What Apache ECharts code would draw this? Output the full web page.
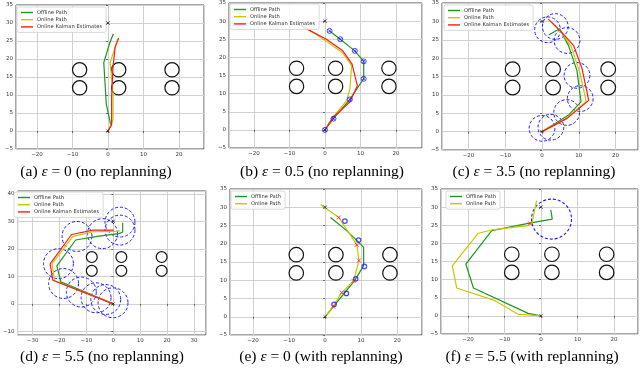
<!DOCTYPE html>
<html><head><meta charset="utf-8">
<script src="https://cdn.jsdelivr.net/npm/echarts@6/dist/echarts.min.js"></script>
<style>html,body{margin:0;padding:0;background:#fff}#c{width:640px;height:368px}</style>
</head><body><div id="c"></div>
<script>
// ---------- data ----------
const obstacleCenters = [[-8,12],[-8,17],[3,12],[3,17],[18,12],[18,17]];
const obstacleRadius = 2;
const startPoint = [[0,0]];
const goalPoint = [[0,30]];

const aOffline = [[0.8,1.5],[-0.5,7.5],[-1.2,19],[0.5,24.5],[1.5,27]];
const aOnline  = [[0,0],[1.4,3],[1.4,10.5],[0.6,19],[2,23.3],[2.8,25.8]];
const aKalman  = [[0,0],[1,1.7],[1,9.5],[1.4,17.8],[2,23.3],[3,25.8]];

const bOffline = [[0,0],[2.4,3.1],[7,8.4],[10.9,14.1],[10.9,18.9],[8.4,21.8],[4.3,25],[1.3,27.3]];
const bOnline  = [[0,0],[2.3,3.5],[6.1,8.1],[7,11.3],[7.5,17.7],[5,21.2],[0.8,24.2],[-4.5,27.6],[-8,29.5]];
const bKalman  = [[0,0],[2.3,3.5],[7,7.7],[9.1,12.2],[7.6,18.2],[5,21.8],[0.4,25],[-5,27.8],[-8,29.5]];
const bWaypoints = [[0,0],[2.4,3.1],[7,8.4],[10.9,14.1],[10.9,18.9],[8.4,21.8],[4.3,25],[1.3,27.3]];

const cOffline = [[0,0],[3.6,2.2],[7.2,4.5],[10.6,8.1],[9.5,16.6],[7.2,23.4],[4.8,28],[1.8,26.3]];
const cOnline  = [[0,0],[6.5,3.5],[12,8.2],[10.3,16],[8,23],[5.2,27.3],[2.5,29.8]];
const cKalman  = [[0,0],[6.8,3.6],[12.7,8.5],[10.9,17.1],[8.6,23.4],[5.4,27],[1.7,30.6]];
const cCircles = [[0,0.9],[2.4,1.2],[6.7,5.2],[10.4,9],[9.5,15.3],[6.8,24.8],[3.6,28.6],[1.5,27.7]];
const cEps = 3.5;

const dOffline = [[0,0],[-19.5,8],[-21,13.8],[-14,23.2],[-6,24.5],[2,25.5],[3.5,26],[3.5,29.5]];
const dOnline  = [[0,0],[-21.8,8.4],[-22.8,14.5],[-15,24.5],[-7.5,26.2],[0.5,26.3],[2.5,26.5]];
const dKalman  = [[0,0],[-22.5,8.6],[-23.5,14.5],[-15.5,25.2],[-7.5,26.8],[0.2,26.8]];
const dCircles = [[-13.5,24.5],[-4,25.5],[2.5,29.7],[2.5,26.8],[-20.4,14.6],[-18.5,7.4],[-11.9,4.3],[-6.4,2.2],[-2.8,1.6],[-0.1,0.4]];
const dEps = 5.5;

const eOffline = [[0,0],[8.2,9.9],[10.7,14],[10.7,19],[8.5,21.2],[5.5,24],[1.5,27.2]];
const eOnline  = [[0,0],[2.2,2.8],[4.6,6.6],[7.9,9.8],[9.4,15.4],[8.8,19.7],[3.8,27.2],[-1.2,30.7]];
const eBlue    = [[2.5,3.4],[5.9,6.4],[8.5,10.4],[10.9,13.8],[9.3,21],[5.5,26.2]];
const eRed     = [[2.2,2.8],[4.6,6.6],[7.9,9.8],[9.4,15.4],[8.8,19.7],[3.8,27.2]];

const fOffline = [[0,0],[-3.5,0.7],[-18.5,7.7],[-20.6,14.3],[-13.5,23.5],[-3.5,25.5],[3.1,26.7],[2.7,29.2]];
const fOnline  = [[0,0],[-6.4,0.5],[-12.6,4.2],[-23.1,7.7],[-24.3,13.8],[-17.2,22.8],[-13.5,23.7],[-3.5,24.9],[-2.4,25.8],[-1.2,31.8]];
const fRed     = [[-3,25.5]];
const fCircles = [[2.9,26.7]];
const fEps = 5.5;

const seriesNames = ['Offline Path','Online Path','Online Kalman Estimates'];
const captions = [
  '(a) ε = 0 (no replanning)',
  '(b) ε = 0.5 (no replanning)',
  '(c) ε = 3.5 (no replanning)',
  '(d) ε = 5.5 (no replanning)',
  '(e) ε = 0 (with replanning)',
  '(f) ε = 5.5 (with replanning)'
];

// ---------- layout / style ----------
const layouts = [
  {left:16,  top:5,   width:188, height:144, x:[-25.9,27.0], y:[-5,35],     ys:5},
  {left:229, top:2,   width:193, height:146, x:[-27.0,27.3], y:[-5,35],     ys:5},
  {left:442, top:2,   width:196, height:148, x:[-27.2,26.1], y:[-5,35],     ys:5},
  {left:13,  top:191, width:193, height:144, x:[-35.6,34.5], y:[-11.3,41],  ys:10},
  {left:230, top:189, width:192, height:146, x:[-26.4,26.9], y:[-5,35],     ys:5},
  {left:441, top:189, width:197, height:145, x:[-27.4,26.6], y:[-5,35],     ys:5}
];
const captionPos = [[96,172],[322,172],[534,172],[102,357],[321,357],[532,357]];
const GREEN = '#1e961e', YELLOW = '#c8c800', RED = '#ff1a1a', BLUE = '#1a1aff';
const X_PATH = 'path://M0,0L10,10M10,0L0,10';
const minus = v => String(v).replace('-', '\u2212');

const grids = layouts.map(l => ({left:l.left, top:l.top, width:l.width, height:l.height,
  show:true, borderColor:'#222', borderWidth:0.8, containLabel:false}));
const axisCommon = {
  type:'value', axisLine:{show:false},
  axisTick:{show:true, length:2, lineStyle:{color:'#333', width:0.7}},
  splitLine:{show:true, lineStyle:{color:'#d0d0d0', width:1}}
};
const xAxes = layouts.map((l,i) => Object.assign({}, axisCommon, {
  gridIndex:i, min:l.x[0], max:l.x[1], minInterval:10, maxInterval:10,
  axisLabel:{fontSize:5.5, color:'#333', margin:3, fontFamily:'DejaVu Sans', showMinLabel:false, showMaxLabel:false, formatter:minus}
}));
const yAxes = layouts.map((l,i) => Object.assign({}, axisCommon, {
  gridIndex:i, min:l.y[0], max:l.y[1], minInterval:l.ys, maxInterval:l.ys,
  axisLabel:{fontSize:5.5, color:'#333', margin:3, fontFamily:'DejaVu Sans',
    showMinLabel: l.y[0] % l.ys === 0, showMaxLabel: l.y[1] % l.ys === 0, formatter:minus}
}));

const series = [];
function line(name, data, color, gi) {
  series.push({type:'line', name, data, xAxisIndex:gi, yAxisIndex:gi, symbol:'none', showSymbol:false,
    lineStyle:{color, width:1.2}, itemStyle:{color}, z:3, clip:true, silent:true});
}
function circles(centers, r, gi, color, width, dash) {
  series.push({type:'custom', xAxisIndex:gi, yAxisIndex:gi, data:centers.map(c => [c[0], c[1], r]),
    encode:{x:0, y:1}, z:2, clip:true, silent:true,
    renderItem:function(params, api){
      const c = api.coord([api.value(0), api.value(1)]);
      const s = api.size([api.value(2), api.value(2)]);
      return {type:'circle', shape:{cx:c[0], cy:c[1], r:(s[0]+s[1])/2},
        style:{fill:'none', stroke:color, lineWidth:width, lineDash:dash}};
    }});
}
function marks(data, gi, symbol, size, color, width) {
  const empty = symbol === 'emptyCircle';
  series.push({type:'scatter', data, xAxisIndex:gi, yAxisIndex:gi, symbol:empty ? 'circle' : symbol, symbolSize:size, z:4, silent:true,
    itemStyle: {color:'rgba(0,0,0,0)', borderColor:color, borderWidth:width}});
}

for (let g = 0; g < 6; g++) {
  circles(obstacleCenters, obstacleRadius, g, '#111', 1.2, null);
}
// (a)
line(seriesNames[0], aOffline, GREEN, 0); line(seriesNames[1], aOnline, YELLOW, 0); line(seriesNames[2], aKalman, RED, 0);
// (b)
line(seriesNames[0], bOffline, GREEN, 1); line(seriesNames[1], bOnline, YELLOW, 1); line(seriesNames[2], bKalman, RED, 1);
marks(bWaypoints, 1, 'emptyCircle', 5, BLUE, 1); marks(bWaypoints, 1, X_PATH, 3.2, BLUE, 0.9);
// (c)
line(seriesNames[0], cOffline, GREEN, 2); line(seriesNames[1], cOnline, YELLOW, 2); line(seriesNames[2], cKalman, RED, 2);
circles(cCircles, cEps, 2, BLUE, 1, [3,2]);
// (d)
line(seriesNames[0], dOffline, GREEN, 3); line(seriesNames[1], dOnline, YELLOW, 3); line(seriesNames[2], dKalman, RED, 3);
circles(dCircles, dEps, 3, BLUE, 1, [3,2]);
// (e)
line(seriesNames[0], eOffline, GREEN, 4); line(seriesNames[1], eOnline, YELLOW, 4);
marks(eBlue, 4, 'emptyCircle', 4.5, BLUE, 1.2); marks(eRed, 4, X_PATH, 4, RED, 1);
// (f)
line(seriesNames[0], fOffline, GREEN, 5); line(seriesNames[1], fOnline, YELLOW, 5);
marks(fRed, 5, X_PATH, 4, RED, 1); circles(fCircles, fEps, 5, BLUE, 1.1, [3,2]);
// start / goal
for (let g = 0; g < 6; g++) {
  marks(goalPoint, g, X_PATH, 3.5, '#222', 1);
  marks(startPoint, g, X_PATH, 3, '#222', 1);
}

const legendPos = [[17,7],[230,4],[444,5],[14,192],[231,191],[446,191]];
const legends = legendPos.map((p,i) => ({
  data: i < 4 ? seriesNames : seriesNames.slice(0,2),
  orient:'vertical', left:p[0], top:p[1], icon:'rect', itemWidth:12, itemHeight:1.4, itemGap:2.2,
  selectedMode:false, textStyle:{fontSize:5.2, color:'#333', fontFamily:'DejaVu Sans', padding:[0,0,0,-1]},
  backgroundColor:'rgba(255,255,255,0.85)', borderColor:'#cfcfcf', borderWidth:0.8, borderRadius:2, padding:[3,4,3,4]
}));

const graphic = captions.map((t,i) => ({
  type:'text', x:captionPos[i][0], y:captionPos[i][1], silent:true,
  style:{text:t.replace('ε','{e|ε}'), fontSize:15.5, fontFamily:'Liberation Serif', fill:'#000',
    align:'center', verticalAlign:'middle',
    rich:{e:{fontStyle:'italic', fontSize:15.5, fontFamily:'Liberation Serif', fill:'#000'}}}
}));

const chart = echarts.init(document.getElementById('c'), null, {renderer:'canvas'});
chart.setOption({animation:false, backgroundColor:'#fff', grid:grids, xAxis:xAxes, yAxis:yAxes,
  legend:legends, series, graphic});
</script></body></html>
